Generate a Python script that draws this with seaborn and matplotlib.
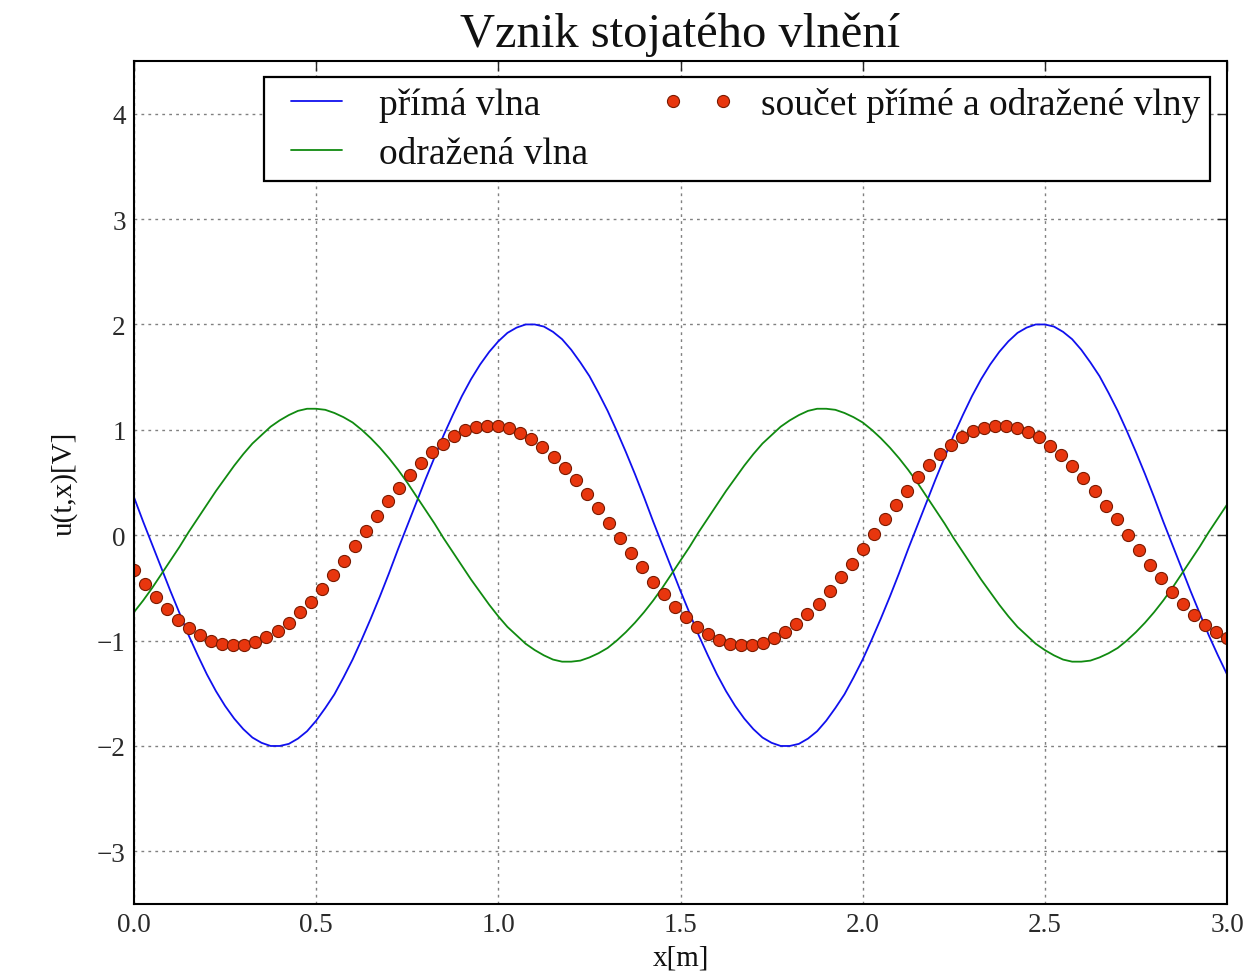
import numpy as np
import matplotlib
matplotlib.use("Agg")
import matplotlib.pyplot as plt
import seaborn as sns
from matplotlib.lines import Line2D
from matplotlib.legend_handler import HandlerLine2D

# ---- data ----
title = 'Vznik stojatého vlnění'
label_direct = 'přímá vlna'
label_reflected = 'odražená vlna'
label_sum = 'součet přímé a odražené vlny'
x_label = 'x[m]'
y_label = 'u(t,x)[V]'
x_ticks = [0.0, 0.5, 1.0, 1.5, 2.0, 2.5, 3.0]
y_ticks = [-3, -2, -1, 0, 1, 2, 3, 4]

x_line = np.arange(121) * 0.025          # sample grid of the two lines, 0 .. 3 m
direct_wave = [
    0.36, 0.13, -0.09, -0.31, -0.53, -0.74, -0.95, -1.14, -1.32, -1.48, -1.62, -1.74, -1.84, -1.92,
    -1.97, -2.00, -2.00, -1.98, -1.93, -1.86, -1.76, -1.64, -1.51, -1.35, -1.18, -0.99, -0.79, -0.58,
    -0.36, -0.13, 0.09, 0.31, 0.53, 0.74, 0.95, 1.14, 1.32, 1.48, 1.62, 1.74, 1.84, 1.92,
    1.97, 2.00, 2.00, 1.98, 1.93, 1.86, 1.76, 1.64, 1.51, 1.35, 1.18, 0.99, 0.79, 0.58,
    0.36, 0.13, -0.09, -0.31, -0.53, -0.74, -0.95, -1.14, -1.32, -1.48, -1.62, -1.74, -1.84, -1.92,
    -1.97, -2.00, -2.00, -1.98, -1.93, -1.86, -1.76, -1.64, -1.51, -1.35, -1.18, -0.99, -0.79, -0.58,
    -0.36, -0.13, 0.09, 0.31, 0.53, 0.74, 0.95, 1.14, 1.32, 1.48, 1.62, 1.74, 1.84, 1.92,
    1.97, 2.00, 2.00, 1.98, 1.93, 1.86, 1.76, 1.64, 1.51, 1.35, 1.18, 0.99, 0.79, 0.58,
    0.36, 0.13, -0.09, -0.31, -0.53, -0.74, -0.95, -1.14, -1.32,
]
reflected_wave = [
    -0.73, -0.62, -0.50, -0.37, -0.24, -0.11, 0.03, 0.16, 0.29, 0.42, 0.54, 0.66, 0.77, 0.87,
    0.95, 1.03, 1.09, 1.14, 1.18, 1.20, 1.20, 1.19, 1.16, 1.12, 1.07, 1.00, 0.92, 0.83,
    0.73, 0.62, 0.50, 0.37, 0.24, 0.11, -0.03, -0.16, -0.29, -0.42, -0.54, -0.66, -0.77, -0.87,
    -0.95, -1.03, -1.09, -1.14, -1.18, -1.20, -1.20, -1.19, -1.16, -1.12, -1.07, -1.00, -0.92, -0.83,
    -0.73, -0.62, -0.50, -0.37, -0.24, -0.11, 0.03, 0.16, 0.29, 0.42, 0.54, 0.66, 0.77, 0.87,
    0.95, 1.03, 1.09, 1.14, 1.18, 1.20, 1.20, 1.19, 1.16, 1.12, 1.07, 1.00, 0.92, 0.83,
    0.73, 0.62, 0.50, 0.37, 0.24, 0.11, -0.03, -0.16, -0.29, -0.42, -0.54, -0.66, -0.77, -0.87,
    -0.95, -1.03, -1.09, -1.14, -1.18, -1.20, -1.20, -1.19, -1.16, -1.12, -1.07, -1.00, -0.92, -0.83,
    -0.73, -0.62, -0.50, -0.37, -0.24, -0.11, 0.03, 0.16, 0.29,
]

x_dots = np.linspace(0, 3, 100)          # 100 sample points of the sum
sum_wave = [
    -0.33, -0.46, -0.59, -0.70, -0.80, -0.88, -0.95, -1.00, -1.03, -1.04,
    -1.04, -1.01, -0.97, -0.91, -0.83, -0.73, -0.63, -0.51, -0.38, -0.24,
    -0.10, 0.04, 0.18, 0.32, 0.45, 0.57, 0.69, 0.79, 0.87, 0.94,
    1.00, 1.03, 1.04, 1.04, 1.02, 0.97, 0.91, 0.84, 0.74, 0.64,
    0.52, 0.39, 0.26, 0.12, -0.03, -0.17, -0.30, -0.44, -0.56, -0.68,
    -0.78, -0.87, -0.94, -0.99, -1.03, -1.04, -1.04, -1.02, -0.98, -0.92,
    -0.84, -0.75, -0.65, -0.53, -0.40, -0.27, -0.13, 0.01, 0.15, 0.29,
    0.42, 0.55, 0.67, 0.77, 0.86, 0.93, 0.99, 1.02, 1.04, 1.04,
    1.02, 0.98, 0.93, 0.85, 0.76, 0.66, 0.54, 0.42, 0.28, 0.15,
    0.00, -0.14, -0.28, -0.41, -0.54, -0.65, -0.76, -0.85, -0.92, -0.98,
]

# ---- style ----
sns.set_theme(style="white")
plt.rcParams['font.family'] = ['Liberation Serif', 'DejaVu Serif']
plt.rcParams['text.color'] = '#111111'
plt.rcParams['axes.labelcolor'] = '#111111'

fig = plt.figure(figsize=(12.5, 9.78), dpi=100)
ax = fig.add_axes([0.1072, 0.0746, 0.8744, 0.862])

sns.lineplot(x=x_line, y=direct_wave, color='#1010ee', lw=1.3, label=label_direct, ax=ax)
sns.lineplot(x=x_line, y=reflected_wave, color='#108a10', lw=1.3, label=label_reflected, ax=ax)
sns.lineplot(x=x_dots, y=sum_wave, marker='o', linestyle='', markersize=8.7, color='#e8360e',
             markerfacecolor='#e8360e', markeredgecolor='#7a1a00', markeredgewidth=0.8,
             label=label_sum, ax=ax)

ax.set_xlim(0, 3)
ax.set_ylim(-3.5, 4.5)
ax.set_xticks(x_ticks)
ax.set_xticklabels([f"{v:.1f}" for v in x_ticks])
ax.set_yticks(y_ticks)
ax.set_yticklabels([str(v).replace('-', '\u2212') for v in y_ticks])
ax.grid(True, color='#808080', linestyle=(0, (2, 3)), linewidth=1.0)
ax.tick_params(direction='in', length=7, width=1, top=True, right=True, labelsize=19.5,
               labelcolor='#2a2a2a')
ax.tick_params(axis='x', pad=6)
ax.tick_params(axis='y', pad=6)
for s in ax.spines.values():
    s.set_color('black')
    s.set_linewidth(1.5)

ax.set_title(title, fontsize=35, pad=11, color='#111111')
ax.set_xlabel(x_label, fontsize=21, labelpad=5)
ax.set_ylabel(y_label, fontsize=21, labelpad=14)

leg = ax.legend(loc='upper right', bbox_to_anchor=((1210 - 134) / 1093, 0.981), ncol=2, fontsize=27,
                frameon=True, fancybox=False, edgecolor='black', framealpha=1, borderaxespad=0,
                handlelength=2.25, handletextpad=0.56, columnspacing=1.79, borderpad=0.26,
                labelspacing=0.39,
                handler_map={Line2D: HandlerLine2D(marker_pad=0.45, numpoints=2)})
leg.get_frame().set_linewidth(1.6)

fig.savefig('out.png', dpi=100)
